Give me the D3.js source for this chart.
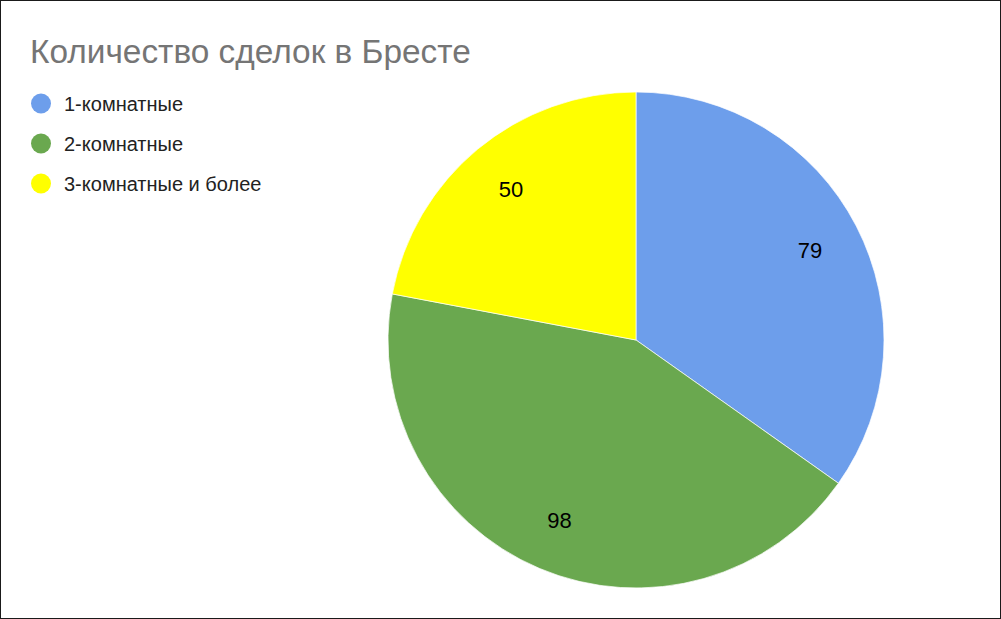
<!DOCTYPE html>
<html>
<head>
<meta charset="utf-8">
<script src="https://cdn.jsdelivr.net/npm/d3@7"></script>
<style>
  html, body { margin: 0; padding: 0; background: #fff; }
  svg { display: block; font-family: "Liberation Sans", Arial, sans-serif; }
</style>
</head>
<body>
<script>
const title = "Количество сделок в Бресте";
const categories = ["1-комнатные", "2-комнатные", "3-комнатные и более"];
const values = [79, 98, 50];
const colors = ["#6d9eeb", "#6aa84f", "#ffff00"];

const width = 1001, height = 619;
const cx = 636, cy = 340, radius = 248;

const svg = d3.select("body")
  .append("svg")
  .attr("width", width)
  .attr("height", height);

// frame
svg.append("rect")
  .attr("x", 0.5).attr("y", 0.5)
  .attr("width", width - 1).attr("height", height - 1)
  .attr("fill", "#fff")
  .attr("stroke", "#1a1a1a");

svg.append("text")
  .attr("x", 30)
  .attr("y", 63)
  .attr("font-size", 33.4)
  .attr("fill", "#757575")
  .text(title);

const color = d3.scaleOrdinal().domain(categories).range(colors);

const legend = svg.append("g")
  .selectAll("g")
  .data(categories)
  .join("g")
  .attr("transform", (d, i) => `translate(41, ${103.5 + i * 40})`);

legend.append("circle")
  .attr("r", 10)
  .attr("fill", d => color(d));

legend.append("text")
  .attr("x", 23)
  .attr("y", 7)
  .attr("font-size", 20)
  .attr("fill", "#222")
  .text(d => d);

const pie = d3.pie().sort(null).value(d => d.value);
const arcs = pie(categories.map((c, i) => ({ name: c, value: values[i] })));

const arc = d3.arc().innerRadius(0).outerRadius(radius);
const labelArc = d3.arc().innerRadius(196).outerRadius(196);

const g = svg.append("g").attr("transform", `translate(${cx},${cy})`);

g.selectAll("path")
  .data(arcs)
  .join("path")
  .attr("d", arc)
  .attr("fill", d => color(d.data.name))
  .attr("stroke", "#fff")
  .attr("stroke-width", 0.7);

g.selectAll("text")
  .data(arcs)
  .join("text")
  .attr("transform", d => `translate(${labelArc.centroid(d)})`)
  .attr("text-anchor", "middle")
  .attr("dy", "0.35em")
  .attr("font-size", 22)
  .attr("fill", "#000")
  .text(d => d.data.value);
</script>
</body>
</html>
